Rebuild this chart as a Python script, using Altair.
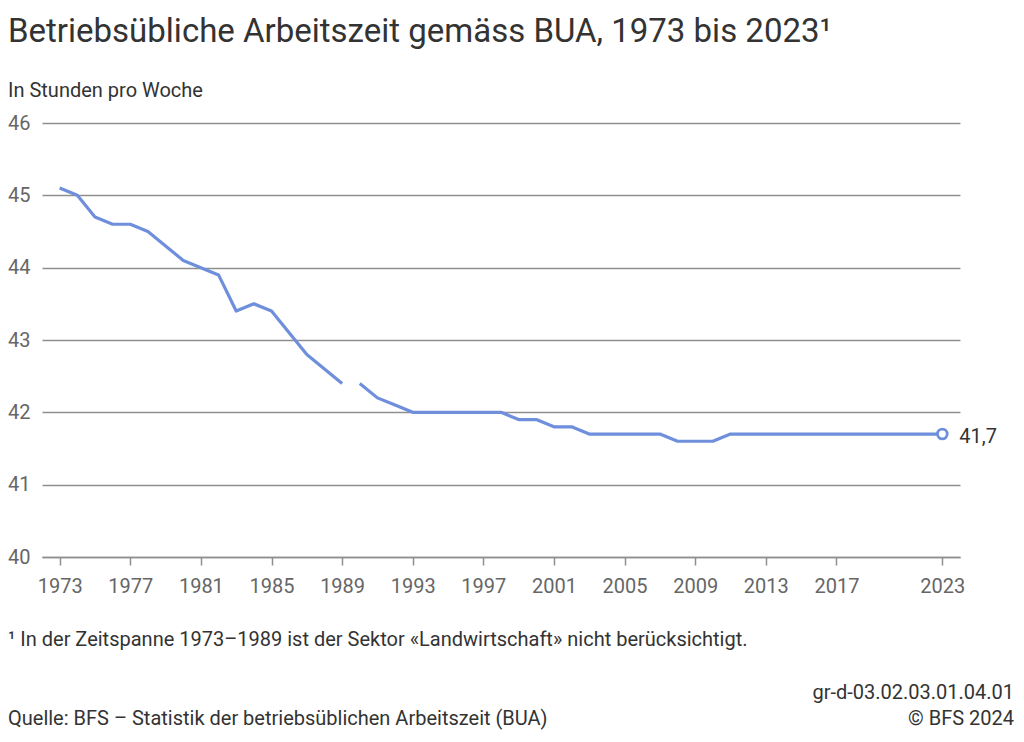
import altair as alt
import pandas as pd

years = list(range(1973, 2024))
hours = [45.1, 45.0, 44.7, 44.6, 44.6, 44.5, 44.3, 44.1, 44.0, 43.9,
         43.4, 43.5, 43.4, 43.1, 42.8, 42.6, 42.4,
         42.4, 42.2, 42.1, 42.0, 42.0, 42.0, 42.0, 42.0, 42.0, 41.9,
         41.9, 41.8, 41.8, 41.7, 41.7, 41.7, 41.7, 41.7, 41.6, 41.6,
         41.6, 41.7, 41.7, 41.7, 41.7, 41.7, 41.7, 41.7, 41.7, 41.7,
         41.7, 41.7, 41.7, 41.7]
segments = ["a" if y <= 1989 else "b" for y in years]
x_ticks = [1973, 1977, 1981, 1985, 1989, 1993, 1997, 2001, 2005, 2009, 2013, 2017, 2023]
y_ticks = [40, 41, 42, 43, 44, 45, 46]

title_text = "Betriebsübliche Arbeitszeit gemäss BUA, 1973 bis 2023¹"
subtitle_text = "In Stunden pro Woche"
footnote_text = "¹ In der Zeitspanne 1973–1989 ist der Sektor «Landwirtschaft» nicht berücksichtigt."
source_text = "Quelle: BFS – Statistik der betriebsüblichen Arbeitszeit (BUA)"
code_text = "gr-d-03.02.03.01.04.01"
copy_text = "© BFS 2024"
end_label = "41,7"

LINE = "#6f8fdc"
GRID = "#8f8f8f"

df = pd.DataFrame({"Jahr": years, "Stunden": hours, "seg": segments})
last = df[df["Jahr"] == 2023].assign(lab=end_label)

xs = alt.Scale(domain=[1972, 2024], nice=False, zero=False)
ys = alt.Scale(domain=[40, 46], nice=False, zero=False)

base = alt.Chart(df)

line = base.mark_line(color=LINE, strokeWidth=3.2, strokeJoin="round").encode(
    x=alt.X("Jahr:Q", scale=xs,
            axis=alt.Axis(values=x_ticks, format="d", title=None, grid=False,
                          domain=True, domainColor=GRID, domainWidth=1.5,
                          ticks=True, tickColor=GRID, tickSize=8, tickWidth=1.5,
                          labelColor="#666666", labelFontSize=20, labelPadding=11,
                          labelOverlap=False, labelFlush=False)),
    y=alt.Y("Stunden:Q", scale=ys,
            axis=alt.Axis(values=y_ticks, format="d", title=None, grid=True,
                          gridColor=GRID, gridWidth=1.5, domain=False, ticks=False,
                          labelColor="#666666", labelFontSize=20, labelPadding=12)),
    detail="seg:N",
)

pt = alt.Chart(last).mark_point(shape="circle", filled=True, fill="white", stroke=LINE,
                                strokeWidth=2.8, size=95, opacity=1).encode(
    x=alt.X("Jahr:Q", scale=xs), y=alt.Y("Stunden:Q", scale=ys))

lab = alt.Chart(last).mark_text(align="left", baseline="middle", dx=17, dy=3, fontSize=20,
                                color="#333333").encode(
    x=alt.X("Jahr:Q", scale=xs), y=alt.Y("Stunden:Q", scale=ys), text="lab:N")


def txt(t, x, y, size, align="left", color="#333333"):
    return alt.Chart(pd.DataFrame({"t": [t]})).mark_text(
        align=align, baseline="alphabetic", fontSize=size, color=color
    ).encode(x=alt.value(x), y=alt.value(y), text="t:N")


chart = alt.layer(
    line, pt, lab,
    txt(title_text, -34, -81, 33),
    txt(subtitle_text, -34, -26, 20),
    txt(footnote_text, -34, 523, 20),
    txt(source_text, -34, 602, 20),
    txt(code_text, 972, 576, 20, align="right"),
    txt(copy_text, 972, 602, 20, align="right"),
).properties(
    width=918, height=434,
    autosize=alt.AutoSizeParams(type="none"),
    padding={"left": 42, "top": 123, "right": 64, "bottom": 185},
).configure(font="Roboto").configure_view(stroke=None)

chart.save("out.html", embed_options={"renderer": "svg", "actions": False})
